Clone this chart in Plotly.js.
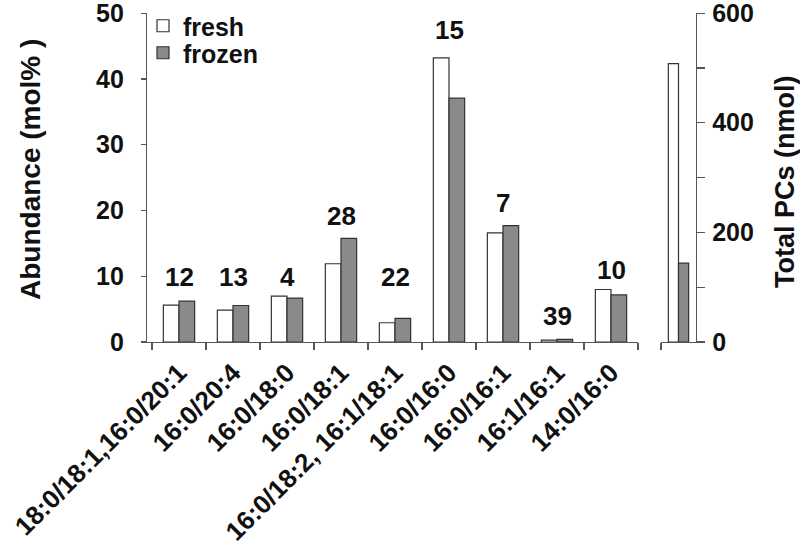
<!DOCTYPE html>
<html>
<head>
<meta charset="utf-8">
<script src="https://cdn.plot.ly/plotly-3.0.1.min.js"></script>
<style>html,body{margin:0;padding:0;background:#fff;}#chart{width:800px;height:550px;}</style>
</head>
<body>
<div id="chart"></div>
<script>
// ---- data ----
var categories = ["18:0/18:1,16:0/20:1", "16:0/20:4", "16:0/18:0", "16:0/18:1", "16:0/18:2, 16:1/18:1", "16:0/16:0", "16:0/16:1", "16:1/16:1", "14:0/16:0"];
var freshAbundance  = [5.6, 4.85, 6.97, 11.9, 2.93, 43.2, 16.6, 0.3, 7.98];
var frozenAbundance = [6.2, 5.55, 6.67, 15.76, 3.59, 37.07, 17.7, 0.4, 7.17];
var countLabels = ["12", "13", "4", "28", "22", "15", "7", "39", "10"];
var countLabelHeights = [9.85, 9.85, 9.85, 19.2, 9.85, 47.4, 21.2, 3.9, 10.9];
var totalPCsFresh  = [508];
var totalPCsFrozen = [144];
var seriesNames = ["fresh", "frozen"];
var leftTicks = [0, 10, 20, 30, 40, 50];
var rightTicks = [0, 200, 400, 600];

// ---- styling ----
var FONT = "Liberation Sans, Arial, Helvetica, sans-serif";
var freshColor = "#ffffff", frozenColor = "#8a8a8a", edge = "#333333", axisColor = "#555555";

var traces = [
  {type: "bar", x: categories, y: freshAbundance, name: seriesNames[0], xaxis: "x", yaxis: "y",
   marker: {color: freshColor, line: {color: edge, width: 1.2}}, legend: "legend"},
  {type: "bar", x: categories, y: frozenAbundance, name: seriesNames[1], xaxis: "x", yaxis: "y",
   marker: {color: frozenColor, line: {color: edge, width: 1.2}}, legend: "legend2"},
  {type: "bar", x: [0], y: totalPCsFresh, name: seriesNames[0], xaxis: "x2", yaxis: "y2", showlegend: false,
   marker: {color: freshColor, line: {color: edge, width: 1.2}}},
  {type: "bar", x: [0], y: totalPCsFrozen, name: seriesNames[1], xaxis: "x2", yaxis: "y2", showlegend: false,
   marker: {color: frozenColor, line: {color: edge, width: 1.2}}}
];

var L = 147, R = 104, T = 13, B = 208, W = 800, H = 550;
var pw = W - L - R, ph = H - T - B;
function px2paperX(px) { return (px - L) / pw; }
function px2paperY(py) { return (H - B - py) / ph; }

var annotations = categories.map(function (c, i) {
  return {x: c, y: countLabelHeights[i], xref: "x", yref: "y", text: countLabels[i], showarrow: false,
          font: {family: FONT, size: 26, color: "#111", weight: "bold"}, yanchor: "middle", xanchor: "center"};
});
annotations.push({x: px2paperX(30), y: px2paperY(170), xref: "paper", yref: "paper", text: "Abundance (mol% )",
  textangle: -90, showarrow: false, font: {family: FONT, size: 28, color: "#111", weight: "bold"}, xanchor: "center", yanchor: "middle"});
annotations.push({x: px2paperX(785), y: px2paperY(182), xref: "paper", yref: "paper", text: "Total PCs (nmol)",
  textangle: -90, showarrow: false, font: {family: FONT, size: 27, color: "#111", weight: "bold"}, xanchor: "center", yanchor: "middle"});

var boldFont = function (s) { return {family: FONT, size: s, color: "#111", weight: "bold"}; };

var layout = {
  width: W, height: H,
  margin: {l: L, r: R, t: T, b: B, autoexpand: false},
  paper_bgcolor: "#fff", plot_bgcolor: "#fff",
  font: {family: FONT, color: "#111", weight: "bold"},
  barmode: "group", bargap: 0.42, bargroupgap: 0,
  xaxis: {domain: [0, px2paperX(638)], anchor: "y", type: "category", range: [-0.5 - 5 / 54, 8.5],
          tickson: "boundaries", ticks: "outside", ticklen: 7, tickcolor: axisColor, tickwidth: 1.2,
          showline: true, linecolor: axisColor, linewidth: 1.2, showgrid: false, zeroline: false,
          tickangle: -45, tickfont: boldFont(26), ticklabelstandoff: 4, ticklabeloverflow: "allow",
          automargin: false},
  yaxis: {domain: [0, 1], anchor: "x", range: [0, 50.02], tickvals: leftTicks, ticks: "outside", ticklen: 5,
          tickcolor: axisColor, tickwidth: 1.2, showline: true, linecolor: axisColor, linewidth: 1.2,
          showgrid: false, zeroline: false, tickfont: boldFont(25), ticklabelstandoff: 12,
          ticklabeloverflow: "allow", automargin: false},
  xaxis2: {domain: [px2paperX(661), 1], anchor: "y2", range: [-0.5, 0.5], tickvals: [-0.5], ticks: "outside",
           ticklen: 7, tickcolor: axisColor, tickwidth: 1.2, showticklabels: false, showline: true,
           linecolor: axisColor, linewidth: 1.2, showgrid: false, zeroline: false, automargin: false},
  yaxis2: {domain: [0, 1], anchor: "x2", side: "right", range: [0, 600.2], tickvals: rightTicks, ticks: "outside",
           ticklen: 8, tickcolor: axisColor, tickwidth: 1.2, showline: true, linecolor: axisColor, linewidth: 1.2,
           minor: {dtick: 100, ticks: "outside", ticklen: 8, tickcolor: axisColor, tickwidth: 1.2, showgrid: false},
           showgrid: false, zeroline: false, tickfont: boldFont(25), ticklabelstandoff: 2,
           ticklabeloverflow: "allow", automargin: false},
  showlegend: true,
  legend: {x: px2paperX(143), y: px2paperY(26), xanchor: "left", yanchor: "middle", bgcolor: "rgba(0,0,0,0)",
           font: boldFont(25), borderwidth: 0},
  legend2: {x: px2paperX(143), y: px2paperY(53), xanchor: "left", yanchor: "middle", bgcolor: "rgba(0,0,0,0)",
            font: boldFont(25), borderwidth: 0},
  annotations: annotations
};

Plotly.newPlot("chart", traces, layout, {staticPlot: true, displayModeBar: false});
</script>
</body>
</html>
